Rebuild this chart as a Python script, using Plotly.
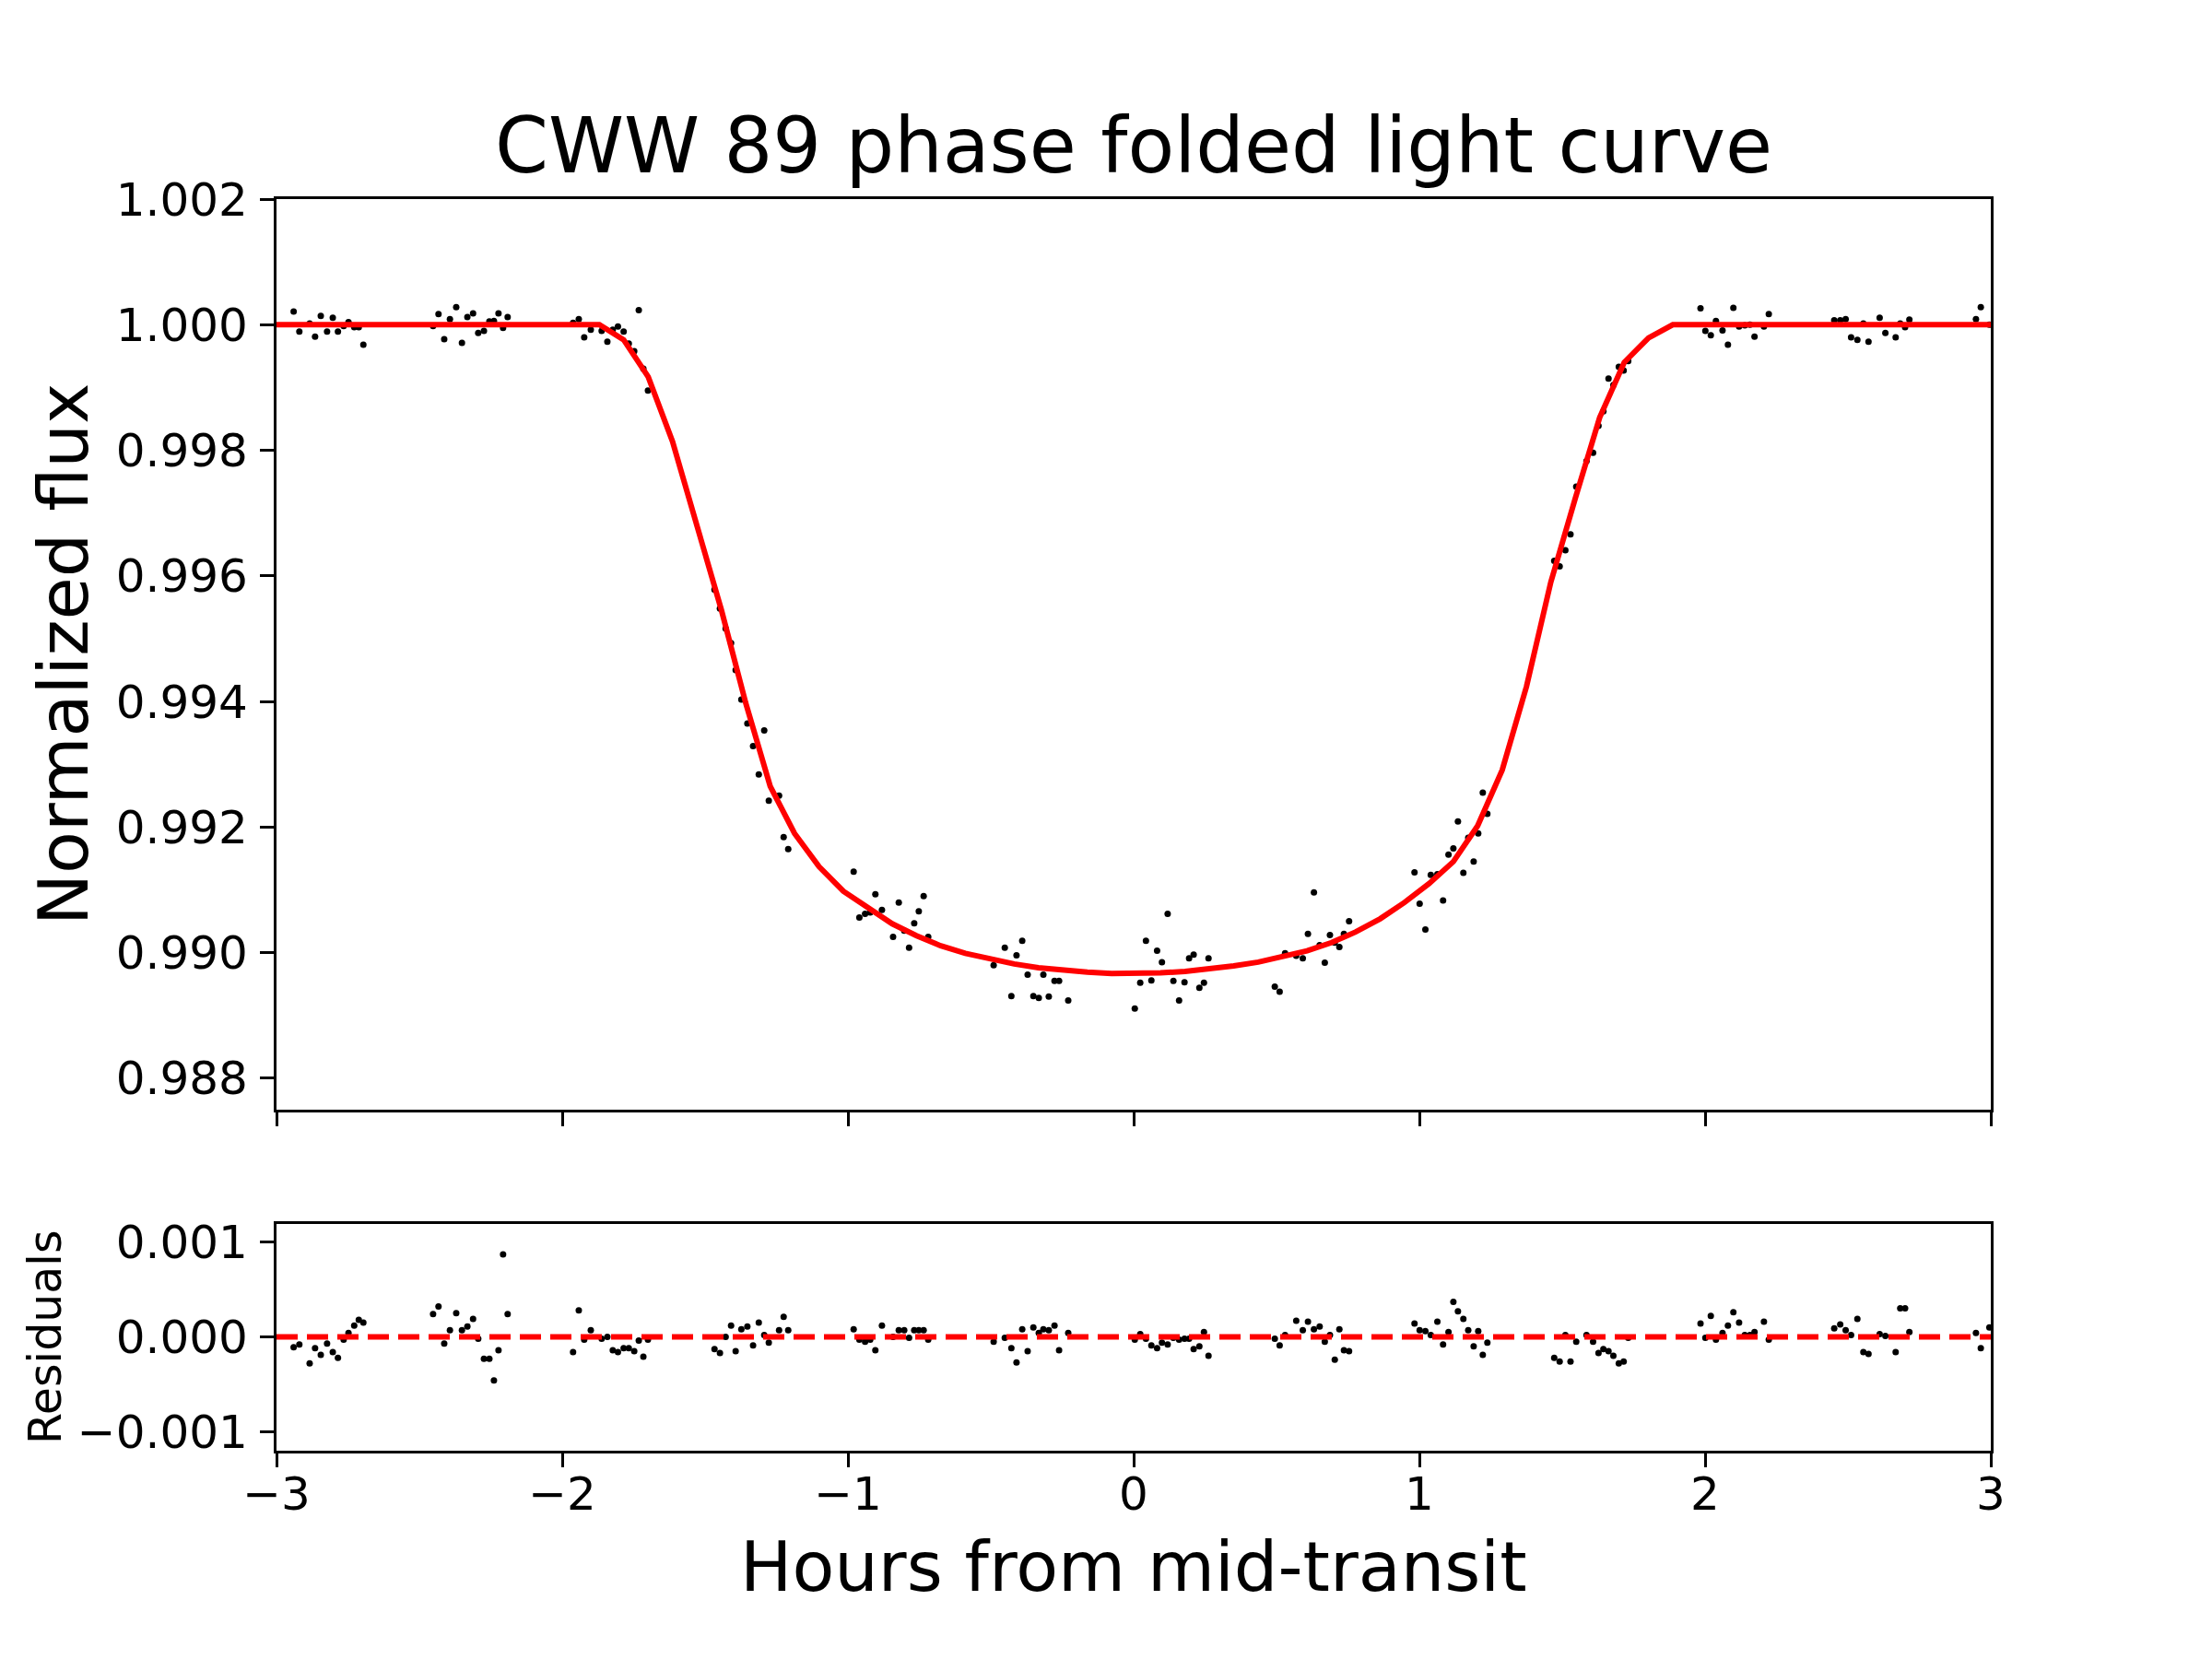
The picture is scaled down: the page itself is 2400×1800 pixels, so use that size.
import plotly.graph_objects as go

# ---------------- data ----------------
hours = [
    -2.940, -2.920, -2.884, -2.865, -2.845, -2.823, -2.803, -2.785, -2.765, -2.748, -2.728, -2.712, -2.696,
    -2.452, -2.433, -2.413, -2.393, -2.371, -2.351, -2.332, -2.312, -2.294, -2.274, -2.255, -2.239, -2.223, -2.207, -2.191,
    -1.962, -1.942, -1.923, -1.900, -1.862, -1.842, -1.823, -1.805, -1.785, -1.767, -1.748, -1.732, -1.716, -1.700,
    -1.467, -1.448, -1.428, -1.409, -1.393, -1.373, -1.352, -1.332, -1.312, -1.293, -1.277, -1.241, -1.225, -1.209,
    -0.980, -0.960, -0.940, -0.922, -0.904, -0.881, -0.842, -0.822, -0.803, -0.786, -0.768, -0.752, -0.735, -0.719,
    -0.490, -0.451, -0.428, -0.410, -0.390, -0.371, -0.351, -0.332, -0.316, -0.297, -0.277, -0.261, -0.229,
    0.004, 0.023, 0.043, 0.062, 0.082, 0.099, 0.119, 0.139, 0.159, 0.178, 0.194, 0.210, 0.230, 0.246, 0.262,
    0.494, 0.511, 0.530, 0.569, 0.592, 0.610, 0.631, 0.651, 0.669, 0.687, 0.704, 0.720, 0.736, 0.754,
    0.983, 1.001, 1.021, 1.040, 1.063, 1.083, 1.102, 1.119, 1.135, 1.154, 1.171, 1.190, 1.206, 1.222, 1.238,
    1.472, 1.491, 1.511, 1.529, 1.549, 1.585, 1.608, 1.627, 1.644, 1.662, 1.679, 1.698, 1.715, 1.731,
    1.984, 2.001, 2.020, 2.038, 2.061, 2.080, 2.099, 2.119, 2.139, 2.157, 2.173, 2.206, 2.223,
    2.452, 2.473, 2.492, 2.511, 2.533, 2.554, 2.572, 2.611, 2.631, 2.667, 2.683, 2.700, 2.715,
    2.948, 2.965, 2.995,
]

flux = [
    1.00021, 0.99989, 1.00002, 0.99981, 1.00014, 0.99989, 1.00011, 0.99989, 0.99998, 1.00004, 0.99996, 0.99996, 0.99968,
    0.99998, 1.00017, 0.99977, 1.00009, 1.00028, 0.99971, 1.00012, 1.00018, 0.99987, 0.99990, 1.00005, 1.00006, 1.00018, 0.99995, 1.00012,
    1.00003, 1.00009, 0.99980, 0.99992, 0.99990, 0.99973, 0.99992, 0.99997, 0.99989, 0.99970, 0.99958, 1.00023, 0.99930, 0.99895,
    0.99578, 0.99548, 0.99516, 0.99493, 0.99450, 0.99403, 0.99365, 0.99329, 0.99284, 0.99354, 0.99242, 0.99250, 0.99184, 0.99165,
    0.99129, 0.99056, 0.99062, 0.99064, 0.99093, 0.99068, 0.99025, 0.99080, 0.99035, 0.99008, 0.99047, 0.99066, 0.99090, 0.99025,
    0.98980, 0.99008, 0.98931, 0.98996, 0.99019, 0.98965, 0.98931, 0.98928, 0.98965, 0.98930, 0.98955, 0.98955, 0.98924,
    0.98911, 0.98952, 0.99019, 0.98956, 0.99003, 0.98985, 0.99062, 0.98955, 0.98924, 0.98953, 0.98991, 0.98997, 0.98944, 0.98952, 0.98991,
    0.98946, 0.98938, 0.98999, 0.98995, 0.98991, 0.99030, 0.99096, 0.99012, 0.98984, 0.99028, 0.99016, 0.99009, 0.99030, 0.99050,
    0.99128, 0.99078, 0.99037, 0.99124, 0.99125, 0.99083, 0.99156, 0.99166, 0.99209, 0.99127, 0.99183, 0.99145, 0.99190, 0.99255, 0.99221,
    0.99624, 0.99615, 0.99641, 0.99666, 0.99742, 0.99783, 0.99796, 0.99839, 0.99862, 0.99914, 0.99904, 0.99933, 0.99927, 0.99942,
    1.00026, 0.99990, 0.99983, 1.00006, 0.99991, 0.99968, 1.00027, 0.99997, 0.99999, 1.00000, 0.99981, 0.99997, 1.00017,
    1.00007, 1.00007, 1.00009, 0.99980, 0.99976, 1.00002, 0.99973, 1.00011, 0.99987, 0.99980, 1.00002, 0.99996, 1.00008,
    1.00009, 1.00028, 1.00000,
]

residuals = [
    -0.00011, -0.00008, -0.00028, -0.00012, -0.00019, -0.00007, -0.00016, -0.00022, -0.00003, 0.00004, 0.00012, 0.00018, 0.00015,
    0.00024, 0.00032, -0.00007, 0.00007, 0.00025, 0.00007, 0.00011, 0.00019, -0.00002, -0.00023, -0.00023, -0.00046, -0.00014, 0.00087, 0.00024,
    -0.00016, 0.00028, -0.00003, 0.00007, -0.00002, 0.00000, -0.00014, -0.00016, -0.00012, -0.00012, -0.00015, -0.00004, -0.00021, -0.00003,
    -0.00013, -0.00017, 0.00000, 0.00012, -0.00015, 0.00008, 0.00011, -0.00009, 0.00015, 0.00002, -0.00006, 0.00007, 0.00021, 0.00007,
    0.00008, -0.00003, -0.00005, -0.00003, -0.00014, 0.00012, 0.00000, 0.00007, 0.00007, -0.00001, 0.00007, 0.00007, 0.00007, -0.00003,
    -0.00005, -0.00001, -0.00012, -0.00027, 0.00008, -0.00015, 0.00010, 0.00004, 0.00008, 0.00007, 0.00012, -0.00014, 0.00004,
    -0.00003, 0.00003, -0.00002, -0.00009, -0.00012, -0.00006, -0.00008, -0.00001, -0.00003, -0.00002, -0.00002, -0.00013, -0.00010, 0.00005, -0.00020,
    -0.00002, -0.00009, 0.00002, 0.00017, 0.00007, 0.00016, 0.00008, 0.00011, -0.00005, 0.00002, -0.00024, 0.00008, -0.00014, -0.00015,
    0.00014, 0.00007, 0.00006, 0.00002, 0.00016, -0.00008, 0.00005, 0.00037, 0.00027, 0.00019, 0.00007, -0.00010, 0.00006, -0.00019, -0.00006,
    -0.00022, -0.00026, 0.00002, -0.00026, -0.00005, 0.00002, -0.00005, -0.00017, -0.00013, -0.00015, -0.00020, -0.00028, -0.00026, -0.00001,
    0.00014, -0.00001, 0.00022, -0.00003, 0.00004, 0.00012, 0.00026, 0.00015, 0.00002, 0.00002, 0.00005, 0.00016, -0.00003,
    0.00009, 0.00013, 0.00007, 0.00002, 0.00019, -0.00016, -0.00018, 0.00003, 0.00001, -0.00016, 0.00030, 0.00030, 0.00005,
    0.00004, -0.00012, 0.00010,
]

model_hours = [
    -3.000, -1.870, -1.785, -1.699, -1.614, -1.528, -1.443, -1.358, -1.272, -1.187, -1.101,
    -1.016, -0.931, -0.845, -0.760, -0.675, -0.589, -0.504, -0.418, -0.333, -0.248,
    -0.162, -0.077, 0.009, 0.094, 0.180, 0.265, 0.350, 0.436, 0.521, 0.607,
    0.692, 0.777, 0.863, 0.948, 1.034, 1.119, 1.204, 1.290, 1.375, 1.460,
    1.546, 1.631, 1.717, 1.802, 1.887, 3.000,
]
model_flux = [
    1.00000, 1.00000, 0.99976, 0.99917, 0.99814, 0.99680, 0.99546, 0.99398, 0.99265, 0.99190, 0.99137,
    0.99098, 0.99071, 0.99046, 0.99027, 0.99011, 0.98999, 0.98990, 0.98982, 0.98976, 0.98972,
    0.98969, 0.98967, 0.98967, 0.98968, 0.98970, 0.98974, 0.98979, 0.98985, 0.98993, 0.99003,
    0.99016, 0.99033, 0.99054, 0.99080, 0.99110, 0.99145, 0.99202, 0.99291, 0.99424, 0.99590,
    0.99724, 0.99852, 0.99940, 0.99979, 1.00000, 1.00000,
]

zero_line_x = [-3, 3]
zero_line_y = [0, 0]

x_ticks = [-3, -2, -1, 0, 1, 2, 3]
flux_ticks = [0.988, 0.990, 0.992, 0.994, 0.996, 0.998, 1.000, 1.002]
res_ticks = [-0.001, 0.0, 0.001]

title_text = "CWW 89 phase folded light curve"
ylabel_top = "Normalized flux"
ylabel_bottom = "Residuals"
xlabel = "Hours from mid-transit"

# ---------------- figure ----------------
FONT = "DejaVu Sans"
W, H = 2400, 1800
LW = 3.3

fig = go.Figure()

fig.add_trace(go.Scatter(x=hours, y=flux, mode="markers",
                         marker=dict(color="black", size=7, line=dict(width=0)),
                         xaxis="x", yaxis="y", showlegend=False))
fig.add_trace(go.Scatter(x=model_hours, y=model_flux, mode="lines",
                         line=dict(color="red", width=6),
                         xaxis="x", yaxis="y", showlegend=False))

fig.add_trace(go.Scatter(x=hours, y=residuals, mode="markers",
                         marker=dict(color="black", size=7, line=dict(width=0)),
                         xaxis="x2", yaxis="y2", showlegend=False))
fig.add_trace(go.Scatter(x=zero_line_x, y=zero_line_y, mode="lines",
                         line=dict(color="red", width=6, dash="23px,10px"),
                         xaxis="x2", yaxis="y2", showlegend=False))

axis_common = dict(showline=True, linecolor="black", linewidth=LW, mirror=True,
                   ticks="outside", ticklen=15, tickwidth=LW, tickcolor="black",
                   showgrid=False, zeroline=False, automargin=False,
                   tickfont=dict(family=FONT, size=50, color="black"))

xd = [0.125, 0.9]
fig.update_layout(
    template="none",
    width=W, height=H,
    margin=dict(l=0, r=0, t=0, b=0, autoexpand=False),
    paper_bgcolor="white", plot_bgcolor="white",
    xaxis=dict(domain=xd, range=[-3, 3], anchor="y", tickvals=x_ticks,
               showticklabels=False, **axis_common),
    yaxis=dict(domain=[1 - 1204 / H, 1 - 216 / H], range=[0.9875, 1.002], anchor="x",
               tickvals=flux_ticks, tickformat=".3f", ticklabelstandoff=3, **axis_common),
    xaxis2=dict(domain=xd, range=[-3, 3], anchor="y2", tickvals=x_ticks,
                tickformat="d", ticklabelstandoff=-14, **axis_common),
    yaxis2=dict(domain=[1 - 1574 / H, 1 - 1328 / H], range=[-0.0012, 0.00119], anchor="x2",
                tickvals=res_ticks, tickformat=".3f", ticklabelstandoff=3, **axis_common),
)

xc = (xd[0] + xd[1]) / 2
fig.add_annotation(text=title_text, x=xc, y=1 - 209 / H, xref="paper", yref="paper",
                   xanchor="center", yanchor="bottom", showarrow=False,
                   font=dict(family=FONT, size=83, color="black"))
fig.add_annotation(text=ylabel_top, x=69 / W, y=1 - 710 / H, xref="paper", yref="paper",
                   xanchor="center", yanchor="middle", textangle=-90, showarrow=False,
                   font=dict(family=FONT, size=75, color="black"))
fig.add_annotation(text=ylabel_bottom, x=49 / W, y=1 - 1451 / H, xref="paper", yref="paper",
                   xanchor="center", yanchor="middle", textangle=-90, showarrow=False,
                   font=dict(family=FONT, size=49, color="black"))
fig.add_annotation(text=xlabel, x=xc, y=1 - 1700 / H, xref="paper", yref="paper",
                   xanchor="center", yanchor="middle", showarrow=False,
                   font=dict(family=FONT, size=75, color="black"))

fig.write_html("out.html")
